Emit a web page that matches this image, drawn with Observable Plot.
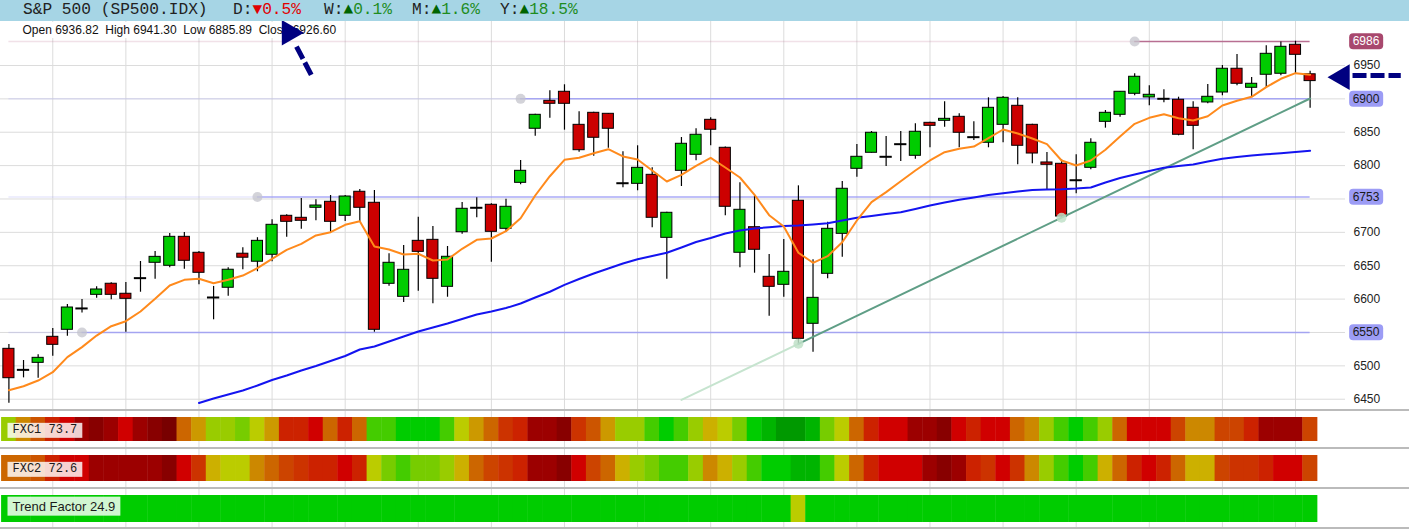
<!DOCTYPE html>
<html>
<head>
<meta charset="utf-8">
<script src="https://cdn.jsdelivr.net/npm/d3@7"></script>
<script src="https://cdn.jsdelivr.net/npm/@observablehq/plot@0.6"></script>
<style>
  html, body { margin: 0; padding: 0; background: #fff; }
  #chart { width: 1409px; }
  #hdr { position: relative; height: 21px; background: #a6d5e5; font-family: "Liberation Mono", "DejaVu Sans Mono", monospace; font-size: 16.2px; color: #222; }
  #hdr span.seg { position: absolute; top: 1px; white-space: pre; line-height: 19px; }
  .panel { border-bottom: 2px solid #bbb; }
  .panel svg { display: block; }
</style>
</head>
<body>
<div id="chart">
  <div id="hdr"></div>
  <div id="main" class="panel"></div>
  <div id="s0" class="panel"></div>
  <div id="s1" class="panel"></div>
  <div id="s2" class="panel"></div>
</div>
<script>
// ---------------- DATA ----------------
const symbolName = "S&P 500 (SP500.IDX)";
const changeLabels = ["D", "W", "M", "Y"];
const changeValues = [-0.5, 0.1, 1.6, 18.5];

const open = [6525.5, 6494, 6504.5, 6543.5, 6554, 6586, 6606.4, 6623, 6608, 6631.4,
  6654.4, 6649.9, 6693.3, 6669.4, 6602.4, 6617, 6668, 6656, 6666.4, 6724.8,
  6721.8, 6736.8, 6745.8, 6724.8, 6760.8, 6744.3, 6622.9, 6603.4, 6687.3, 6688.8,
  6618.4, 6700.2, 6736.8, 6741.3, 6705.3, 6774.2, 6855.2, 6897.1, 6910.6, 6861.1,
  6879.1, 6877.6, 6773.6, 6772.7, 6786.2, 6691.8, 6792.2, 6816.2, 6868.6, 6826.7,
  6669.4, 6707.7, 6633.4, 6621.4, 6747.3, 6563, 6637.9, 6697.8, 6795.2, 6819.2,
  6813.2, 6832.1, 6814.7, 6864.1, 6867.1, 6873.1, 6842.6, 6834.2, 6861.1, 6889.6,
  6861.1, 6804.7, 6802.7, 6778.1, 6796.7, 6865.6, 6876.1, 6907.6, 6902.1, 6900.1,
  6898.6, 6886.6, 6894.6, 6909.5, 6945.1, 6916.6, 6936.1, 6937.6, 6981, 6936.82];
const high = [6532, 6508, 6516.5, 6556, 6592, 6599.4, 6618.4, 6624.4, 6625, 6656.3,
  6671.3, 6698.3, 6699.8, 6671.3, 6619, 6647, 6677, 6692, 6718.8, 6726.3,
  6750.7, 6748.8, 6755.2, 6755.2, 6764.2, 6762.7, 6667.9, 6680.3, 6722.7, 6708.8,
  6678.8, 6744.7, 6751.8, 6743, 6749.7, 6807.7, 6877, 6912.1, 6921.1, 6880.6,
  6880, 6878, 6820.7, 6829.7, 6796.7, 6730, 6842.1, 6855.2, 6871.6, 6828,
  6774.2, 6754.8, 6666.8, 6689.3, 6769.7, 6658.9, 6715.2, 6776.2, 6831.6, 6851.1,
  6843.6, 6851.1, 6862.6, 6865, 6895.6, 6877.6, 6865.6, 6901.6, 6903.6, 6901.6,
  6862, 6819.6, 6808.7, 6816.2, 6840.2, 6882.6, 6911, 6937.6, 6919.6, 6913.6,
  6902.5, 6895.6, 6921.5, 6950, 6966.5, 6932, 6979.5, 6985, 6986.3, 6941.30];
const low = [6444, 6482, 6481.5, 6514.4, 6544.4, 6579, 6601.4, 6599, 6550.4, 6610.3,
  6629.8, 6646.9, 6644.8, 6621.4, 6569, 6604.3, 6644, 6641, 6656, 6692.7,
  6704.7, 6717.3, 6699.3, 6716.3, 6716.3, 6550.4, 6619.3, 6594.9, 6611.8, 6592.9,
  6602.8, 6697.2, 6721.8, 6655.3, 6700.2, 6771.2, 6844.1, 6871, 6853.1, 6820.1,
  6814.1, 6826.1, 6766.8, 6762.3, 6706.8, 6629.8, 6768.7, 6807.2, 6829.7, 6724.8,
  6646.9, 6638.8, 6574.4, 6602.8, 6533, 6520.4, 6630.4, 6662.8, 6782.6, 6818.7,
  6798.7, 6806.2, 6809.6, 6826.7, 6857.6, 6826.7, 6837.6, 6826.7, 6834.2, 6801.2,
  6802.7, 6763.8, 6722, 6757.8, 6793.7, 6856.1, 6872.6, 6904.6, 6889.6, 6894.1,
  6844.7, 6823.7, 6892.6, 6904.6, 6919.6, 6903.1, 6916.6, 6934.6, 6937.6, 6885.89];
const close = [6481.5, 6494, 6512, 6531.5, 6587.4, 6586, 6614.4, 6606.4, 6600.4, 6631.4,
  6663.3, 6693.3, 6657.4, 6639.4, 6602.4, 6644, 6662, 6687.3, 6711.3, 6715.8,
  6717.3, 6740.2, 6715.8, 6753.7, 6736.8, 6554, 6654.4, 6643.9, 6670.8, 6630.4,
  6663.4, 6735.3, 6736.8, 6700.8, 6738.3, 6792.2, 6876.1, 6892.6, 6892.6, 6823.1,
  6841.7, 6855.2, 6773.6, 6796.7, 6721.8, 6729.3, 6832.7, 6846.2, 6853.7, 6738.3,
  6733.8, 6673.9, 6618.4, 6640.9, 6540.5, 6601.9, 6705.3, 6765.3, 6813.2, 6849.2,
  6813.2, 6832.1, 6850.7, 6859.6, 6870.1, 6849.2, 6842.6, 6886.6, 6901.6, 6829.7,
  6818.1, 6801.2, 6723.7, 6778.1, 6834.2, 6879.1, 6910.6, 6933.1, 6906.1, 6900.1,
  6846.2, 6859.6, 6903.1, 6945.1, 6922.6, 6922.6, 6967.5, 6978, 6966, 6926.60];

// short moving average (orange), one value per candle
const maShort = [6463.4, 6469.5, 6478, 6490.5, 6513, 6528, 6545.4, 6559.4, 6566.9, 6581.4,
  6600.4, 6620.4, 6628.9, 6630.4, 6623.8, 6628.9, 6635.3, 6646.3, 6660.4, 6673.8,
  6682.8, 6695.3, 6700.2, 6711.3, 6716.5, 6678.8, 6674.3, 6666.8, 6667.9, 6657.8,
  6659.3, 6675.4, 6688.8, 6690.8, 6701.7, 6721.2, 6755.2, 6784.1, 6808.7, 6811.7,
  6818.6, 6824.6, 6813.7, 6809.2, 6792.7, 6776.2, 6786.2, 6799.7, 6811.7, 6797.2,
  6782.2, 6756.3, 6725.7, 6708.8, 6669.4, 6654.4, 6664.3, 6685.2, 6717.8, 6745.2,
  6760.2, 6776.6, 6792.7, 6807.7, 6820.1, 6825.2, 6828.6, 6841.1, 6854.1, 6848.1,
  6840.6, 6832.1, 6807.7, 6800.2, 6807.7, 6823.7, 6843.6, 6862.6, 6871.6, 6877,
  6871, 6867.6, 6874, 6890.1, 6897.1, 6903.1, 6917.5, 6930.1, 6938.5, 6936.1];
// long moving average (blue), starts at candle 13
const maLongStart = 13;
const maLong = [6444.3, 6451, 6457, 6463, 6470.5, 6478.8, 6485.5, 6493, 6499.7, 6507.2,
  6514.7, 6524.5, 6529, 6536.5, 6544, 6551.4, 6557.4, 6563.4, 6570.2, 6577,
  6581.4, 6586.6, 6593.4, 6602.4, 6611, 6621.4, 6630.1, 6638.3, 6645.8, 6653.3,
  6659.8, 6664.6, 6669.4, 6677.3, 6685.6, 6691.5, 6698.3, 6702.8, 6705.8, 6707.7,
  6709.5, 6710.3, 6711.8, 6713.7, 6717.8, 6721.8, 6724.5, 6727.5, 6730.2, 6735,
  6740.2, 6744.7, 6748.8, 6752.2, 6756, 6758.7, 6761.2, 6763.5, 6764.2, 6764.7,
  6765.7, 6767.2, 6774.7, 6781.4, 6786.7, 6792, 6796.7, 6799.4, 6801.7, 6806.2,
  6810.2, 6812.9, 6815.1, 6816.9, 6818.6, 6820.4, 6822.2];

// horizontal levels: value and the candle where they begin
const levelValues = [6986, 6900, 6753, 6550];
const levelStarts = [77, 35, 17, 5];

// trend line: faint start, two anchor lows, end
const trendIdx = [46, 54, 72, 89];
const trendVal = [6449, 6533, 6722, 6900.5];

// price ticks and weekly grid
const priceTicks = [6450, 6500, 6550, 6600, 6650, 6700, 6750, 6800, 6850, 6900, 6950];
const weekTicks = [3, 8, 13, 18, 23, 28, 33, 38, 43, 48, 53, 58, 63, 68, 73, 78, 83, 88];

// annotation arrows (data units: candle index, price)
const arrowTails = [
  {x1: 19.67, y1: 6978.4, x2: 20.70, y2: 6935},
  {x1: 91.9, y1: 6935, x2: 95.2, y2: 6935}
];
const arrowHeads = [
  {x: 19.17, y: 6999, rot: -30},
  {x: 91.2, y: 6932.5, rot: -90}
];

// indicator strips (colour level per candle, 0 = deep red ... 18 = deep green)
const stripNames = ["FXC1", "FXC2", "Trend Factor"];
const stripScores = [73.7, 72.6, 24.9];
const fxc1 = [13,9,7,4,3,2,1,2,3,2, 1,0,8,10,13,13,14,12,10,4, 4,3,8,4,8,15,15,16,16,16,
  15,12,10,8,5,4,2,2,1,5, 7,10,13,13,15,16,15,13,11,12, 14,16,17,18,18,17,14,12,8,4,
  3,3,2,2,1,3,4,3,3,8, 9,13,15,16,15,13,8,3,3,3, 6,9,9,6,6,4,2,2,2,6];
const fxc2 = [8,8,7,4,3,3,2,2,2,2, 2,1,3,5,11,12,12,9,8,6, 5,4,4,3,4,12,14,15,14,14,
  13,11,8,6,5,4,2,2,1,3, 6,8,11,13,14,15,15,13,9,11, 13,15,16,16,17,17,15,12,8,4,
  3,3,3,2,1,2,4,5,3,5, 9,13,15,16,15,11,8,4,3,4, 8,11,11,6,5,5,4,3,3,6];
const trendFactor = [16,16,16,16,16,16,16,16,16,16, 16,16,16,16,16,16,16,16,16,16,
  16,16,16,16,16,16,16,16,16,16, 16,16,16,16,16,16,16,16,16,16, 16,16,16,16,16,16,16,16,16,16,
  16,16,16,16,12,16,16,16,16,16, 16,16,16,16,16,16,16,16,16,16, 16,16,16,16,16,16,16,16,16,16,
  16,16,16,16,16,16,16,16,16,16];
const palette = ["#780000","#880000","#9c0000","#d00000","#cc2200","#cc3300","#cc4400","#cc5500",
  "#cc6600","#cc8800","#cc9900","#ccb000","#bbcc00","#99cc00","#77cc00","#44cc00","#00cc00","#00b400","#009900"];

// ---------------- HEADER ----------------
const hdr = document.getElementById("hdr");
const segLeft = [23, 233, 324, 412, 500];
function seg(left, parts) {
  const s = document.createElement("span");
  s.className = "seg"; s.style.left = left + "px";
  parts.forEach(([txt, color]) => {
    const p = document.createElement("span");
    p.textContent = txt; p.style.color = color; s.appendChild(p);
  });
  hdr.appendChild(s);
}
seg(segLeft[0], [[symbolName, "#222"]]);
changeLabels.forEach((lab, k) => {
  const v = changeValues[k], up = v >= 0;
  seg(segLeft[k + 1], [[lab + ":", "#222"], [up ? "▲" : "▼", up ? "#006400" : "#e00000"],
    [Math.abs(v).toFixed(1) + "%", up ? "#1e8c1e" : "#e00000"]]);
});

// ---------------- MAIN CHART ----------------
const N = open.length;
const candles = open.map((o, i) => ({i, o, h: high[i], l: low[i], c: close[i]}));
const upC = candles.filter(d => d.c > d.o);
const downC = candles.filter(d => d.c < d.o);
const dojiC = candles.filter(d => d.c === d.o);
const ma5 = maShort.map((v, i) => ({i, v}));
const ma50 = maLong.map((v, k) => ({i: k + maLongStart, v}));
const levels = levelValues.map((v, k) => ({v, start: levelStarts[k], peak: k === 0}));
const peakLv = levels.filter(d => d.peak), normLv = levels.filter(d => !d.peak);
const trend = trendIdx.map((i, k) => ({i, v: trendVal[k]}));
const last = candles[N - 1];
const ohlc = `Open ${last.o.toFixed(2)}  High ${last.h.toFixed(2)}  Low ${last.l.toFixed(2)}  Close ${last.c.toFixed(2)}`;
const fmt = d3.format("d");

const W = 1409, MR = 64;
const xScale = {domain: [-0.575, 91.42], axis: null};
const sans = '"Liberation Sans", Arial, sans-serif';
const mono = '"Liberation Mono", "DejaVu Sans Mono", monospace';
const BW = 0.38;

const mainSvg = Plot.plot({
  width: W, height: 388,
  marginLeft: 0, marginRight: MR, marginTop: 0, marginBottom: 0,
  x: xScale,
  y: {domain: [6434.6, 7015.9], axis: null},
  style: {background: "transparent", overflow: "visible", fontFamily: sans, fontSize: "12px"},
  marks: [
    Plot.gridX(weekTicks, {stroke: "#dcdcdc", strokeOpacity: 1}),
    Plot.gridY(priceTicks, {stroke: "#dcdcdc", strokeOpacity: 1}),
    Plot.axisY(priceTicks, {anchor: "right", tickSize: 0, tickPadding: 8, tickFormat: fmt, fill: "#222", fontSize: 12, label: null}),
    Plot.ruleY(normLv, {y: "v", x1: 0, x2: "start", stroke: "#9a9af5", strokeOpacity: 0.22, strokeWidth: 1.5}),
    Plot.ruleY(peakLv, {y: "v", x1: 0, x2: "start", stroke: "#c07898", strokeOpacity: 0.22, strokeWidth: 1.5}),
    Plot.ruleY(normLv, {y: "v", x1: "start", x2: N - 1, stroke: "#9a9af5", strokeOpacity: 0.85, strokeWidth: 1.5}),
    Plot.ruleY(peakLv, {y: "v", x1: "start", x2: N - 1, stroke: "#b86f92", strokeWidth: 1.5}),
    Plot.dot(levels, {x: "start", y: "v", r: 5, fill: "#c4c4cc", fillOpacity: 0.75}),
    Plot.ruleX(candles, {x: "i", y1: "l", y2: "h", stroke: "#000", strokeWidth: 1.2}),
    Plot.rect(upC, {x1: d => d.i - BW, x2: d => d.i + BW, y1: "o", y2: "c", fill: "#00cc00", stroke: "#000", strokeWidth: 1}),
    Plot.rect(downC, {x1: d => d.i - BW, x2: d => d.i + BW, y1: "o", y2: "c", fill: "#cc0000", stroke: "#000", strokeWidth: 1}),
    Plot.ruleY(dojiC, {y: "o", x1: d => d.i - 0.42, x2: d => d.i + 0.42, stroke: "#000", strokeWidth: 2}),
    Plot.line(trend.slice(0, 2), {x: "i", y: "v", stroke: "#c6e4cf", strokeWidth: 2}),
    Plot.line(trend.slice(1), {x: "i", y: "v", stroke: "#5f9e86", strokeWidth: 2}),
    Plot.dot(trend.slice(1, 3), {x: "i", y: "v", r: 5, fill: "#bfe0c8", fillOpacity: 0.85}),
    Plot.line(ma50, {x: "i", y: "v", stroke: "#1414f0", strokeWidth: 2}),
    Plot.line(ma5, {x: "i", y: "v", stroke: "#ff8a1c", strokeWidth: 2}),
    Plot.text(peakLv, {y: "v", text: d => fmt(d.v), frameAnchor: "right", dx: 20.5, textAnchor: "middle", fill: "#fff", fontSize: 12}),
    Plot.text(normLv, {y: "v", text: d => fmt(d.v), frameAnchor: "right", dx: 20.5, textAnchor: "middle", fill: "#1a1a1a", fontSize: 12}),
    Plot.text([ohlc], {text: d => d, frameAnchor: "top-left", dx: 22, dy: 4, lineAnchor: "top", textAnchor: "start", fill: "#111", fontSize: 12}),
    Plot.link(arrowTails, {x1: "x1", y1: "y1", x2: "x2", y2: "y2", stroke: "#000080", strokeWidth: 5, strokeDasharray: "14,4"}),
    Plot.dot(arrowHeads, {x: "x", y: "y", r: 9.5, symbol: "triangle", fill: "#000080", rotate: "rot"})
  ]
});
document.getElementById("main").appendChild(mainSvg);

// ---------------- STRIPS ----------------
const stripData = [fxc1, fxc2, trendFactor];
const stripH = [36, 38, 38];
const stripInsetBottom = [6, 6, 5];
const stripSvgs = stripData.map((lv, s) => {
  const cells = lv.map((v, i) => ({i, v}));
  const isMono = s < 2;
  const label = `${stripNames[s]} ${stripScores[s].toFixed(1)}`;
  const svg = Plot.plot({
    width: W, height: stripH[s],
    marginLeft: 0, marginRight: MR, marginTop: 0, marginBottom: 0,
    x: xScale,
    color: {type: "ordinal", domain: d3.range(palette.length), range: palette},
    style: {background: "transparent", overflow: "visible", fontFamily: sans, fontSize: "12px"},
    marks: [
      Plot.gridX(weekTicks, {stroke: "#dcdcdc", strokeOpacity: 1}),
      Plot.rect(cells, {x1: d => d.i - 0.5, x2: d => d.i + 0.53, fill: "v", insetTop: 6, insetBottom: stripInsetBottom[s]}),
      Plot.text([label], {text: d => d, frameAnchor: "left", dx: 12, dy: isMono ? 0 : -2, textAnchor: "start", fill: "#1a1a1a",
        fontFamily: isMono ? mono : sans, fontSize: isMono ? 12 : 13})
    ]
  });
  document.getElementById("s" + s).appendChild(svg);
  return svg;
});

// ---------------- label backgrounds ----------------
const NS = "http://www.w3.org/2000/svg";
const notAxis = t => !t.closest('[aria-label*="axis"]');
function addBoxes(svg, pred, {padX, padY, fill, opacity = 1, rx = 0}) {
  Array.from(svg.querySelectorAll("text")).filter(t => notAxis(t) && pred(t.textContent)).forEach(t => {
    const bb = t.getBBox();
    const r = document.createElementNS(NS, "rect");
    r.setAttribute("x", bb.x - padX);
    r.setAttribute("y", bb.y - padY);
    r.setAttribute("width", bb.width + 2 * padX);
    r.setAttribute("height", bb.height + 2 * padY);
    r.setAttribute("rx", rx);
    r.setAttribute("fill", fill);
    r.setAttribute("fill-opacity", opacity);
    r.setAttribute("stroke", "none");
    const tr = t.getAttribute("transform");
    if (tr) r.setAttribute("transform", tr);
    t.parentNode.insertBefore(r, t);
  });
}
const peakStr = peakLv.map(d => fmt(d.v)), normStr = normLv.map(d => fmt(d.v));
addBoxes(mainSvg, s => s.startsWith("Open "), {padX: 4, padY: 1, fill: "#fff"});
addBoxes(mainSvg, s => peakStr.includes(s), {padX: 3.5, padY: 1, fill: "#a8486e", rx: 4});
addBoxes(mainSvg, s => normStr.includes(s), {padX: 3.5, padY: 1, fill: "#9c9cf5", rx: 4});
stripSvgs.forEach((svg, k) => {
  addBoxes(svg, s => s.startsWith(stripNames[k]), k < 2
    ? {padX: 5, padY: 0.5, fill: "#fff", opacity: 0.82}
    : {padX: 5, padY: 2, fill: "#fff", opacity: 0.82});
});
</script>
</body>
</html>
